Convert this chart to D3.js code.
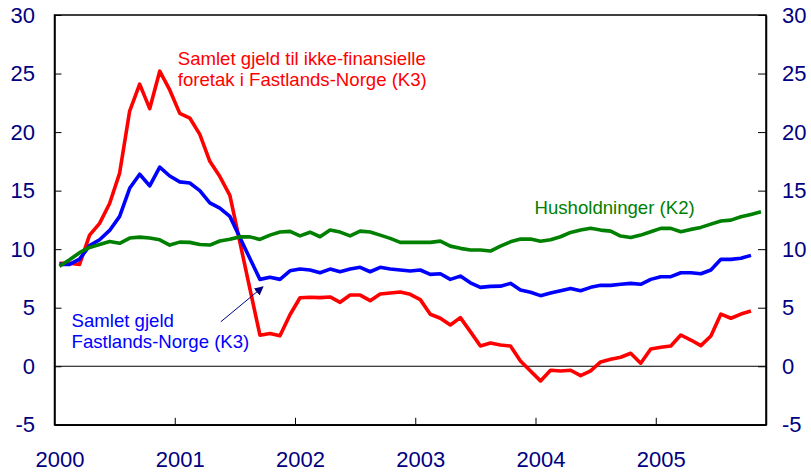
<!DOCTYPE html>
<html>
<head>
<meta charset="utf-8">
<script src="https://cdn.jsdelivr.net/npm/d3@7"></script>
<style>
  html, body { margin: 0; padding: 0; background: #fff; }
  svg { display: block; font-family: "Liberation Sans", Arial, sans-serif; }
</style>
</head>
<body>
<svg id="chart" width="811" height="474"></svg>
<script>
// Monthly observations, Jan 2000 onwards
const months = d3.range(71); // Jan 2000 .. Nov 2005
const yearLabels = ["2000", "2001", "2002", "2003", "2004", "2005"];
const yTicks = [-5, 0, 5, 10, 15, 20, 25, 30];

const ikkeFinansielle = [
  8.8, 8.8, 8.7, 11.2, 12.2, 13.9, 16.5, 21.8, 24.1, 22.0, 25.2, 23.6,
  21.6, 21.2, 19.8, 17.5, 16.2, 14.6, 10.6, 6.6, 2.65, 2.8, 2.6, 4.4,
  5.85, 5.9, 5.86, 5.92, 5.46, 6.08, 6.08, 5.6, 6.17, 6.25, 6.34, 6.14,
  5.69, 4.44, 4.1, 3.53, 4.15, 2.96, 1.73, 1.99, 1.82, 1.73, 0.45, -0.4,
  -1.25, -0.34, -0.4, -0.34, -0.8, -0.4, 0.37, 0.6, 0.77, 1.11, 0.26, 1.48,
  1.62, 1.73, 2.67, 2.24, 1.76, 2.59, 4.46, 4.1, 4.46, 4.72
];
const fastlandsNorge = [
  8.7, 8.7, 9.15, 10.3, 10.8, 11.6, 12.8, 15.2, 16.4, 15.4, 17.0, 16.25,
  15.75, 15.65, 15.0, 13.95, 13.5, 12.8, 11.0, 9.2, 7.42, 7.6, 7.42, 8.15,
  8.3, 8.22, 7.99, 8.3, 8.07, 8.3, 8.45, 8.07, 8.45, 8.3, 8.22, 8.13,
  8.22, 7.85, 7.9, 7.42, 7.7, 7.13, 6.74, 6.82, 6.84, 7.08, 6.51, 6.32,
  6.03, 6.25, 6.45, 6.65, 6.45, 6.74, 6.91, 6.91, 7.0, 7.08, 7.0, 7.42,
  7.65, 7.65, 7.99, 7.99, 7.9, 8.22, 9.13, 9.13, 9.22, 9.47
];
const husholdninger = [
  8.55, 9.1, 9.7, 10.15, 10.4, 10.65, 10.5, 10.95, 11.03, 10.95, 10.8, 10.35,
  10.6, 10.58, 10.4, 10.35, 10.7, 10.85, 11.05, 11.05, 10.83, 11.2, 11.46, 11.52,
  11.14, 11.45, 11.06, 11.63, 11.46, 11.14, 11.54, 11.46, 11.2, 10.92, 10.58, 10.58,
  10.58, 10.58, 10.69, 10.26, 10.07, 9.93, 9.93, 9.84, 10.26, 10.63, 10.86, 10.86,
  10.68, 10.8, 11.06, 11.43, 11.63, 11.78, 11.63, 11.54, 11.12, 11.0, 11.2, 11.49,
  11.78, 11.78, 11.49, 11.69, 11.86, 12.14, 12.4, 12.48, 12.77, 12.97, 13.19
];

const seriesNames = ["Samlet gjeld til ikke-finansielle foretak i Fastlands-Norge (K3)",
                     "Samlet gjeld Fastlands-Norge (K3)", "Husholdninger (K2)"];
const seriesColors = ["#ff0000", "#0000ff", "#008000"];

const svg = d3.select("#chart");
const margin = { left: 54.5, right: 45, top: 15, bottom: 49.2 };
const W = 811, H = 474;

const x = d3.scaleLinear().domain([-0.5, months.length - 0.5]).range([margin.left, W - margin.right]);
const y = d3.scaleLinear().domain([-5, 30]).range([H - margin.bottom, margin.top]);

const axisColor = "#000080";
const yFmt = d => String(d); // plain hyphen-minus, as in the original

// frame
svg.append("rect")
  .attr("x", x(-0.5)).attr("y", y(30))
  .attr("width", x(months.length - 0.5) - x(-0.5))
  .attr("height", y(-5) - y(30))
  .attr("fill", "none").attr("stroke", "#000").attr("stroke-width", 1.5);

// zero line
svg.append("line")
  .attr("x1", x(-0.5)).attr("x2", x(months.length - 0.5))
  .attr("y1", y(0)).attr("y2", y(0))
  .attr("stroke", "#000").attr("stroke-width", 1.2);

function styleAxis(g) {
  g.select(".domain").attr("stroke", "#000").attr("stroke-width", 1.5);
  g.selectAll(".tick line").attr("stroke", "#000").attr("stroke-width", 1);
  g.selectAll(".tick text").attr("fill", axisColor).attr("font-size", 22)
    .attr("font-family", "'Liberation Sans', Arial, sans-serif");
}

svg.append("g").attr("transform", `translate(${x(-0.5)},0)`)
  .call(d3.axisLeft(y).tickValues(yTicks).tickFormat(yFmt).tickSizeInner(-7).tickSizeOuter(0).tickPadding(19.5))
  .call(styleAxis);

svg.append("g").attr("transform", `translate(${x(months.length - 0.5)},0)`)
  .call(d3.axisRight(y).tickValues(yTicks).tickFormat(yFmt).tickSizeInner(-8).tickSizeOuter(0).tickPadding(16))
  .call(styleAxis);

// year boundary ticks
const boundaries = yearLabels.slice(1).map((d, i) => (i + 1) * 12 - 0.5);
svg.append("g").attr("transform", `translate(0,${y(-5)})`)
  .call(d3.axisBottom(x).tickValues(boundaries).tickSizeInner(-7).tickSizeOuter(0).tickFormat(""))
  .call(styleAxis);

// year labels at January of each year
svg.append("g").attr("transform", `translate(0,${y(-5)})`)
  .call(d3.axisBottom(x).tickValues(yearLabels.map((d, i) => i * 12)).tickSize(0).tickPadding(27)
    .tickFormat((d, i) => yearLabels[i]))
  .call(styleAxis)
  .call(g => g.select(".domain").remove());

// series lines
const line = d3.line().x((d, i) => x(i)).y(d => y(d));
[ikkeFinansielle, fastlandsNorge, husholdninger].forEach((s, k) => {
  svg.append("path").datum(s)
    .attr("d", line)
    .attr("fill", "none")
    .attr("stroke", seriesColors[k])
    .attr("stroke-width", 3.6)
    .attr("stroke-linejoin", "round");
});

// annotations (data coordinates)
function label(lines, xi, yv, color) {
  const t = svg.append("text")
    .attr("x", x(xi)).attr("y", y(yv))
    .attr("fill", color).attr("font-size", 18.6);
  lines.forEach((l, i) => {
    t.append("tspan").attr("x", x(xi)).attr("dy", i === 0 ? 0 : 21).text(l);
  });
}
label(["Samlet gjeld til ikke-finansielle", "foretak i Fastlands-Norge (K3)"], 11.8, 25.7, seriesColors[0]);
label(["Samlet gjeld", "Fastlands-Norge (K3)"], 1.2, 3.32, seriesColors[1]);
label(["Husholdninger (K2)"], 47.4, 12.99, seriesColors[2]);

// arrow
svg.append("defs").append("marker")
  .attr("id", "arrow").attr("viewBox", "0 0 10 10")
  .attr("refX", 9).attr("refY", 5)
  .attr("markerWidth", 9).attr("markerHeight", 9)
  .attr("markerUnits", "userSpaceOnUse")
  .attr("orient", "auto")
  .append("path").attr("d", "M0,0 L10,5 L0,10 z").attr("fill", axisColor);

svg.append("line")
  .attr("x1", x(16.1)).attr("y1", y(3.8))
  .attr("x2", x(20.3)).attr("y2", y(6.78))
  .attr("stroke", axisColor).attr("stroke-width", 1)
  .attr("marker-end", "url(#arrow)");
</script>
</body>
</html>
